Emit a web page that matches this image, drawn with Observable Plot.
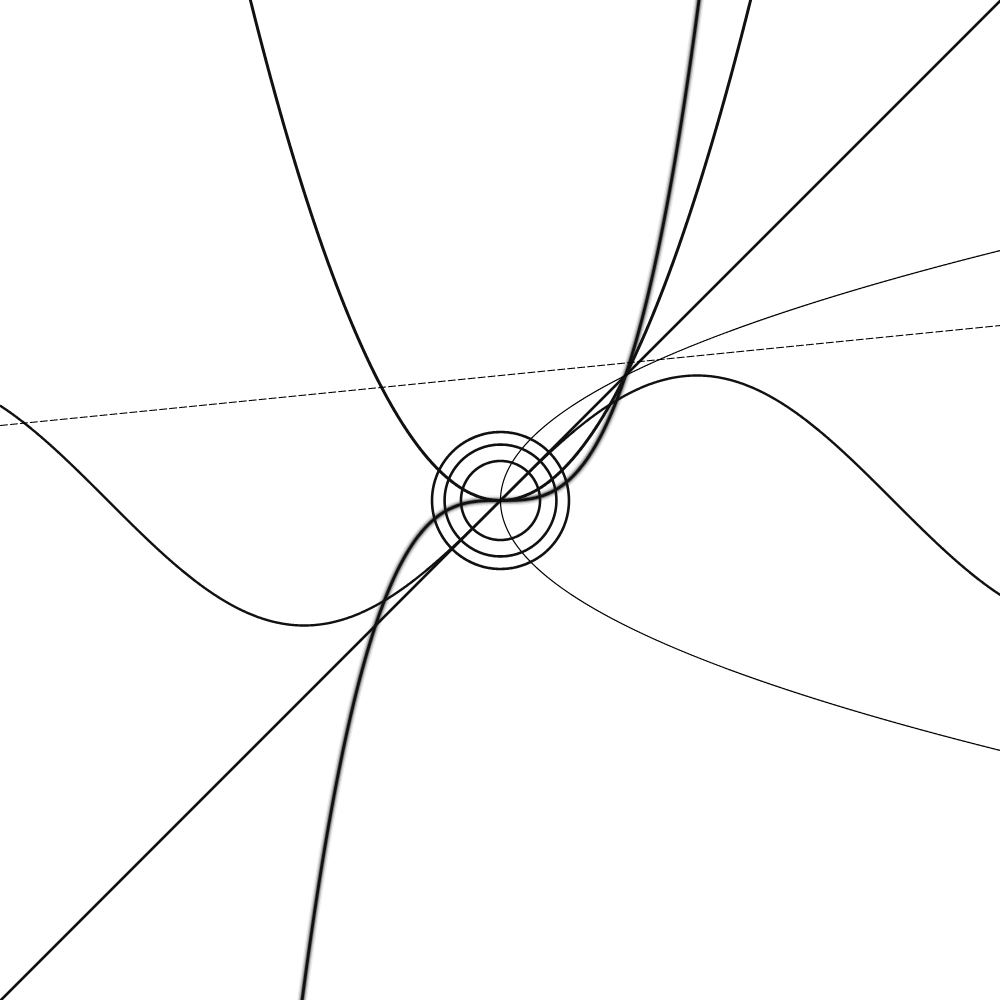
<!DOCTYPE html>
<html>
<head>
<meta charset="utf-8">
<script src="https://cdn.jsdelivr.net/npm/d3@7"></script>
<script src="https://cdn.jsdelivr.net/npm/@observablehq/plot@0.6"></script>
<style>
  html, body { margin: 0; padding: 0; background: #fff; }
  #chart svg { display: block; }
</style>
</head>
<body>
<div id="chart"></div>
<script>
// Domain of the view (both axes)
const xDomain = [-4, 4];
const yDomain = [-4, 4];
// Curves identified in the picture
const functionNames = ["line", "parabola", "cubic", "sine"];
const lineSlope = 1, lineIntercept = 0;              // y = x
const dashSlope = 0.1, dashIntercept = 1;            // y = 0.1x + 1 (thin)
const circleRadiiSquared = [0.1, 0.2, 0.3];          // x² + y² = r²
const sqrtRange = [-2, 2];                           // x = y²  (y = ±√x)

const fns = {
  line: x => lineSlope * x + lineIntercept,
  parabola: x => x * x,
  cubic: x => x * x * x,
  sine: x => Math.sin(x),
  dash: x => dashSlope * x + dashIntercept
};

const N = 1600;
const xs = d3.range(N + 1).map(i => xDomain[0] + (xDomain[1] - xDomain[0]) * i / N);
const curve = name => xs.map(x => ({x, y: fns[name](x)})).filter(d => Math.abs(d.y) < 6);

const sqrtPts = d3.range(N + 1).map(i => {
  const y = sqrtRange[0] + (sqrtRange[1] - sqrtRange[0]) * i / N;
  return {x: y * y, y};
});

const circles = circleRadiiSquared.map(r2 => {
  const r = Math.sqrt(r2);
  return d3.range(361).map(a => ({x: r * Math.cos(a * Math.PI / 180), y: r * Math.sin(a * Math.PI / 180)}));
});

const common = {x: "x", y: "y", clip: true, curve: "linear"};

const marks = [
  // cubic drawn with soft halo
  Plot.line(curve("cubic"), {...common, stroke: "#000", strokeWidth: 10, strokeOpacity: 0.08}),
  Plot.line(curve("cubic"), {...common, stroke: "#000", strokeWidth: 7, strokeOpacity: 0.18}),
  Plot.line(curve("cubic"), {...common, stroke: "#000", strokeWidth: 4.5, strokeOpacity: 0.35}),
  Plot.line(curve("cubic"), {...common, stroke: "#111", strokeWidth: 2.8}),
  Plot.line(curve("line"), {...common, stroke: "#111", strokeWidth: 2.7}),
  Plot.line(curve("parabola"), {...common, stroke: "#111", strokeWidth: 3}),
  Plot.line(curve("sine"), {...common, stroke: "#111", strokeWidth: 2.4}),
  Plot.line(curve("dash"), {...common, stroke: "#000", strokeWidth: 1.1, strokeDasharray: "7,3"}),
  Plot.line(sqrtPts, {...common, stroke: "#000", strokeWidth: 1.2}),
  ...circles.map(c => Plot.line(c, {...common, stroke: "#111", strokeWidth: 2.6}))
];

const chart = Plot.plot({
  width: 1000,
  height: 1000,
  margin: 0,
  x: {domain: xDomain, axis: null},
  y: {domain: yDomain, axis: null},
  style: {background: "#fff"},
  marks
});
document.getElementById("chart").appendChild(chart);
</script>
</body>
</html>
